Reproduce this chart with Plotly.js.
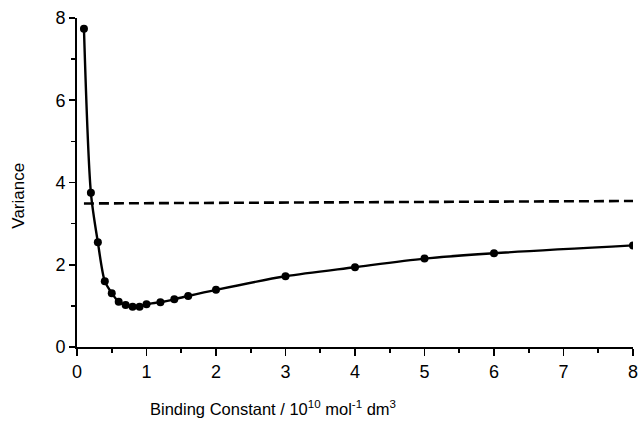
<!DOCTYPE html>
<html>
<head>
<meta charset="utf-8">
<script src="https://cdn.plot.ly/plotly-3.0.1.min.js"></script>
<style>html,body{margin:0;padding:0;background:#fff;}#chart{width:641px;height:421px;}</style>
</head>
<body>
<div id="chart"></div>
<script>
// Binding constant (10^10 mol^-1 dm^3) and variance
const bindingConstant = [0.1, 0.2, 0.3, 0.4, 0.5, 0.6, 0.7, 0.8, 0.9, 1.0, 1.2, 1.4, 1.6, 2, 3, 4, 5, 6, 8];
const variance = [7.74, 3.75, 2.55, 1.6, 1.31, 1.1, 1.02, 0.98, 0.98, 1.04, 1.09, 1.16, 1.24, 1.39, 1.72, 1.94, 2.15, 2.28, 2.47];
// Reference (dashed) level
const refX = [0.1, 8];
const refY = [3.49, 3.55];

const xTitle = 'Binding Constant / 10<sup>10</sup> mol<sup>-1</sup> dm<sup>3</sup>';
const yTitle = 'Variance';

const font = 'Liberation Sans, Arial, Helvetica, sans-serif';

const traces = [
  {
    x: refX, y: refY, mode: 'lines', type: 'scatter',
    line: {color: '#000', width: 2.6, dash: '10px,5px'},
    hoverinfo: 'skip', showlegend: false
  },
  {
    x: bindingConstant, y: variance, mode: 'lines+markers', type: 'scatter',
    line: {color: '#000', width: 2.4, shape: 'spline', smoothing: 0.8},
    marker: {color: '#000', size: 8, symbol: 'circle'},
    showlegend: false
  }
];

const layout = {
  width: 641, height: 421,
  margin: {l: 77, r: 8, t: 18, b: 74},
  paper_bgcolor: '#fff', plot_bgcolor: '#fff',
  font: {family: font, color: '#000', size: 18},
  showlegend: false,
  xaxis: {
    range: [0, 8], dtick: 1, tick0: 0,
    ticks: 'outside', ticklen: 7, tickwidth: 1.6, tickcolor: '#000',
    showline: true, linecolor: '#000', linewidth: 2, mirror: false,
    showgrid: false, zeroline: false,
    tickfont: {size: 18, family: font},
    minor: {dtick: 0.5, ticks: 'outside', ticklen: 4, tickwidth: 1.6, tickcolor: '#000', showgrid: false},
    fixedrange: true
  },
  yaxis: {
    range: [0, 8], dtick: 2, tick0: 0,
    ticks: 'outside', ticklen: 6, tickwidth: 1.6, tickcolor: '#000',
    showline: true, linecolor: '#000', linewidth: 2, mirror: false,
    showgrid: false, zeroline: false,
    tickfont: {size: 18, family: font},
    minor: {dtick: 1, ticks: 'outside', ticklen: 4, tickwidth: 1.6, tickcolor: '#000', showgrid: false},
    fixedrange: true
  },
  annotations: [
    {text: xTitle, xref: 'x', yref: 'paper', x: 2.82, y: 0, yanchor: 'top', xanchor: 'center',
     yshift: -49, showarrow: false, font: {size: 16.5, family: font, color: '#000'}},
    {text: yTitle, xref: 'paper', yref: 'paper', x: 0, y: 0.46, xanchor: 'center', yanchor: 'middle',
     xshift: -58, textangle: -90, showarrow: false, font: {size: 17, family: font, color: '#000'}}
  ]
};

Plotly.newPlot('chart', traces, layout, {displayModeBar: false, staticPlot: true});
</script>
</body>
</html>
